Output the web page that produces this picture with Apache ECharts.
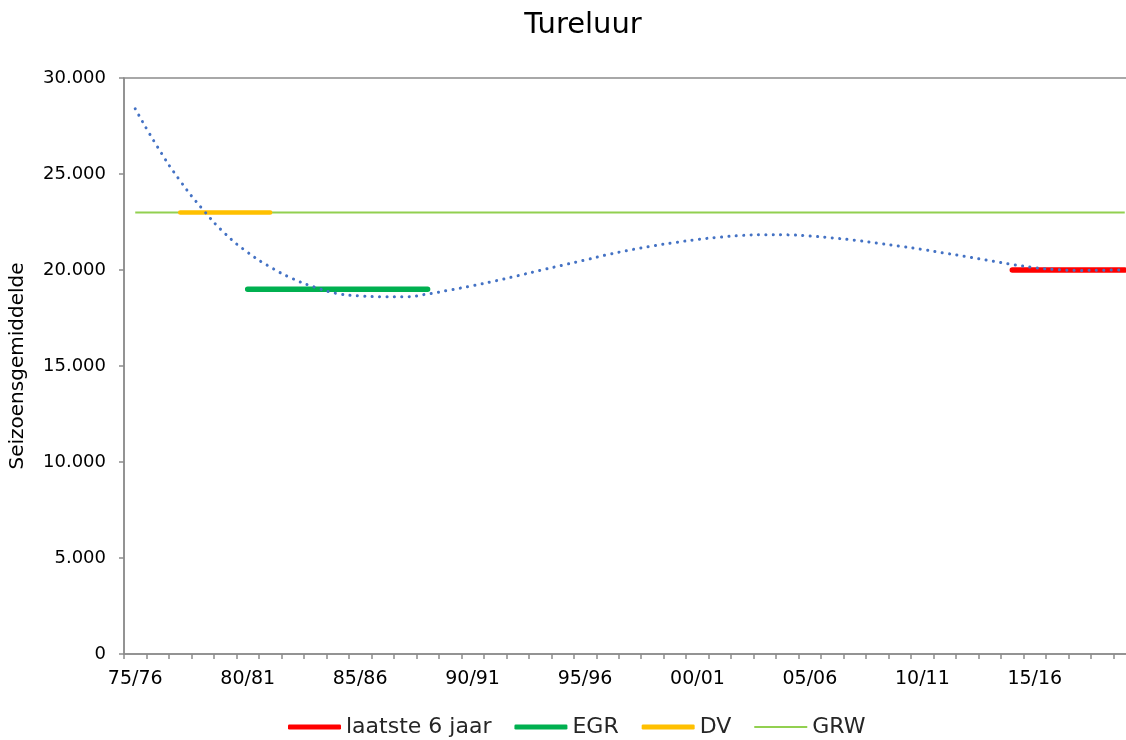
<!DOCTYPE html>
<html>
<head>
<meta charset="utf-8">
<script src="https://cdn.jsdelivr.net/npm/echarts@6/dist/echarts.min.js"></script>
<style>
html,body{margin:0;padding:0;background:#fff;overflow:hidden;}
#chart{width:1126px;height:740px;}
</style>
</head>
<body>
<div id="chart"></div>
<script>
// Seasons (category axis)
var seasons = ['75/76','76/77','77/78','78/79','79/80','80/81','81/82','82/83','83/84','84/85',
  '85/86','86/87','87/88','88/89','89/90','90/91','91/92','92/93','93/94','94/95',
  '95/96','96/97','97/98','98/99','99/00','00/01','01/02','02/03','03/04','04/05',
  '05/06','06/07','07/08','08/09','09/10','10/11','11/12','12/13','13/14','14/15',
  '15/16','16/17','17/18','18/19','19/20'];
// Trend line (blue dotted), value per season
var trend = [28400,26390,24640,23160,21890,20920,20160,19550,19100,18770,
  18650,18610,18610,18750,18960,19180,19430,19700,19980,20250,
  20520,20800,21040,21250,21430,21590,21710,21800,21840,21830,
  21770,21670,21550,21400,21240,21070,20880,20690,20490,20290,
  20120,20020,19980,19990,20010];
// Reference levels
var grwValue = 23000, grwSeasons = ['75/76','19/20'];
var dvValue = 23000, dvSeasons = ['77/78','81/82'];
var egrValue = 19000, egrSeasons = ['80/81','88/89'];
var lastValue = 20000, lastSeasons = ['14/15','19/20'];

function seg(range, v){
  var a = seasons.indexOf(range[0]), b = seasons.indexOf(range[1]);
  var out = [];
  for (var i = a; i <= b; i++) out.push([seasons[i], v]);
  return out;
}
var FONT = 'DejaVu Sans';
var THICK = 'roundRect';
var THIN = 'path://M0,0M53,5M0,1.5H53V3.5H0Z';
var chart = echarts.init(document.getElementById('chart'));
chart.setOption({
  animation:false,
  backgroundColor:'#fff',
  title:{text:'Tureluur', left:578, textAlign:'center', top:6,
    textStyle:{fontFamily:FONT, fontSize:29, fontWeight:'normal', color:'#000'}},
  grid:{left:124, top:78, width:1012, height:576, show:true, borderColor:'#8c8c8c', borderWidth:1.5,
    backgroundColor:'transparent', containLabel:false, outerBoundsMode:'none'},
  legend:{top:716, left:288, itemWidth:53, itemHeight:5, itemGap:23, padding:0,
    textStyle:{fontFamily:FONT, fontSize:22, color:'#262626'},
    data:[{name:'laatste 6 jaar', icon:THICK},{name:'EGR', icon:THICK},{name:'DV', icon:THICK},{name:'GRW', icon:THIN}]},
  xAxis:{type:'category', data:seasons, boundaryGap:true,
    axisLine:{lineStyle:{color:'#8c8c8c', width:1.5}},
    axisTick:{show:true, interval:0, length:5, lineStyle:{color:'#8c8c8c', width:1.5}},
    axisLabel:{interval:4, margin:16, fontFamily:FONT, fontSize:19, color:'#000'}},
  yAxis:{type:'value', min:0, max:30000, interval:5000,
    name:'Seizoensgemiddelde', nameLocation:'middle', nameGap:96, nameRotate:90,
    nameTextStyle:{fontFamily:FONT, fontSize:20, color:'#000'},
    axisLine:{show:true, lineStyle:{color:'#8c8c8c', width:1.5}},
    axisTick:{show:true, length:5, lineStyle:{color:'#8c8c8c', width:1.5}},
    splitLine:{show:false},
    axisLabel:{margin:18, fontFamily:FONT, fontSize:18, color:'#000',
      formatter:function(v){return v===0?'0':(v/1000).toFixed(3);}}},
  series:[
    {name:'GRW', type:'line', data:seg(grwSeasons, grwValue), symbol:'none', z:2,
      lineStyle:{color:'#92D050', width:2}, itemStyle:{color:'#92D050'}},
    {name:'DV', type:'line', data:seg(dvSeasons, dvValue), symbol:'none', z:3,
      lineStyle:{color:'#FFC000', width:4.5, cap:'round'}, itemStyle:{color:'#FFC000'}},
    {name:'EGR', type:'line', data:seg(egrSeasons, egrValue), symbol:'none', z:3,
      lineStyle:{color:'#00B050', width:5.5, cap:'round'}, itemStyle:{color:'#00B050'}},
    {name:'laatste 6 jaar', type:'line', data:seg(lastSeasons, lastValue), symbol:'none', z:3,
      lineStyle:{color:'#FF0000', width:5.5, cap:'round'}, itemStyle:{color:'#FF0000'}},
    {name:'trend', type:'line', data:trend, symbol:'none', smooth:true, z:5,
      lineStyle:{color:'#4472C4', width:3, type:[0.1,7.3], cap:'round'}, itemStyle:{color:'#4472C4'}}
  ]
});
</script>
</body>
</html>
